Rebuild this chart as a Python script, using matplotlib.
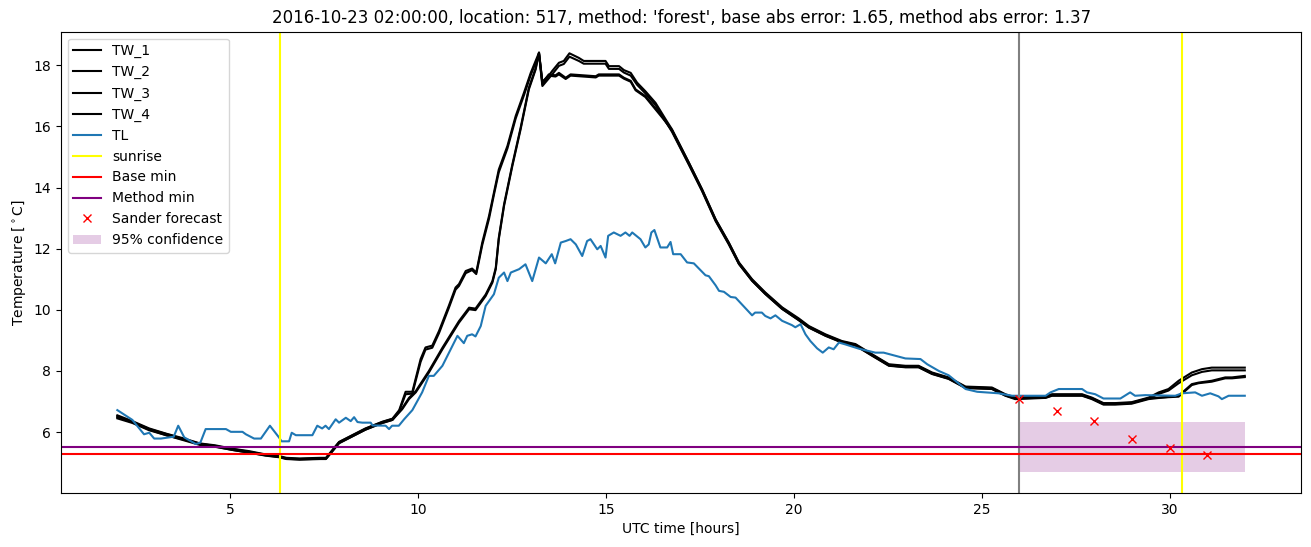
import numpy as np
import matplotlib
matplotlib.use("Agg")
import matplotlib.pyplot as plt

# ── Data (hours UTC, °C) ─────────────────────────────────────────────────────
tw_a_t = [2.0, 2.4, 2.85, 3.3, 3.75, 4.2, 4.6, 5.05, 5.5, 5.95,
          6.3, 6.5, 6.85, 7.4, 7.55, 7.72, 7.9, 8.25, 8.6, 9.05,
          9.32, 9.5, 9.67, 9.85, 10.07, 10.2, 10.38, 10.56, 10.82, 11.0,
          11.09, 11.27, 11.44, 11.55, 11.62, 11.71, 11.89, 12.02, 12.15, 12.38,
          12.6, 12.82, 13.0, 13.22, 13.31, 13.57, 13.75, 13.88, 14.03, 14.28,
          14.41, 14.99, 15.08, 15.35, 15.48, 15.66, 15.83, 16.05, 16.32, 16.59,
          16.76, 17.21, 17.56, 17.92, 18.27, 18.54, 18.89, 19.24, 19.69, 20.13,
          20.4, 20.84, 21.28, 21.64, 22.08, 22.53, 22.97, 23.32, 23.68, 24.12,
          24.57, 25.27, 25.63, 25.89, 26.7, 26.87, 27.67, 27.93, 28.24, 28.55,
          28.99, 29.44, 29.71, 29.97, 30.24, 30.59, 30.86, 31.12, 32.0]
tw_1 = [6.55, 6.36, 6.12, 5.95, 5.8, 5.63, 5.57, 5.46, 5.38, 5.27,
        5.22, 5.16, 5.14, 5.16, 5.16, 5.41, 5.68, 5.9, 6.12, 6.34,
        6.44, 6.72, 7.32, 7.32, 8.39, 8.77, 8.83, 9.31, 10.13, 10.73,
        10.84, 11.27, 11.35, 11.22, 11.65, 12.2, 13.07, 13.83, 14.59, 15.36,
        16.34, 17.1, 17.75, 18.41, 17.37, 17.81, 18.08, 18.14, 18.39, 18.24,
        18.14, 18.14, 17.97, 17.97, 17.84, 17.75, 17.43, 17.15, 16.77, 16.23,
        15.9, 14.81, 13.94, 12.96, 12.2, 11.55, 11.0, 10.57, 10.08, 9.72,
        9.47, 9.2, 8.98, 8.88, 8.55, 8.22, 8.17, 8.17, 7.95, 7.79,
        7.49, 7.46, 7.24, 7.13, 7.17, 7.24, 7.24, 7.13, 6.95, 6.95,
        6.98, 7.13, 7.3, 7.41, 7.68, 7.95, 8.06, 8.11, 8.11]
tw_2 = [6.5, 6.32, 6.08, 5.9, 5.76, 5.6, 5.53, 5.42, 5.33, 5.24,
        5.19, 5.13, 5.11, 5.13, 5.13, 5.38, 5.64, 5.86, 6.08, 6.3,
        6.4, 6.68, 7.24, 7.26, 8.3, 8.7, 8.76, 9.24, 10.06, 10.66,
        10.78, 11.2, 11.3, 11.17, 11.58, 12.12, 12.98, 13.76, 14.5, 15.28,
        16.26, 17.02, 17.68, 18.36, 17.32, 17.7, 17.98, 18.04, 18.28, 18.14,
        18.05, 18.05, 17.88, 17.88, 17.76, 17.66, 17.36, 17.08, 16.7, 16.16,
        15.82, 14.74, 13.88, 12.9, 12.14, 11.5, 10.95, 10.52, 10.03, 9.67,
        9.42, 9.16, 8.94, 8.84, 8.51, 8.18, 8.13, 8.13, 7.91, 7.75,
        7.45, 7.42, 7.2, 7.1, 7.13, 7.2, 7.2, 7.1, 6.92, 6.92,
        6.95, 7.1, 7.25, 7.36, 7.6, 7.86, 7.97, 8.02, 8.02]

tw_b_t = [2.0, 2.4, 2.85, 3.3, 3.75, 4.2, 4.6, 5.05, 5.5, 5.95,
          6.3, 6.5, 6.85, 7.4, 7.55, 7.72, 7.9, 8.25, 8.6, 9.05,
          9.32, 9.58, 9.76, 9.94, 10.29, 10.65, 11.09, 11.36, 11.53, 11.8,
          11.98, 12.07, 12.15, 12.29, 12.51, 12.73, 12.95, 13.13, 13.22, 13.31,
          13.48, 13.66, 13.75, 13.93, 14.06, 14.73, 14.81, 15.35, 15.48, 15.66,
          15.79, 16.05, 16.49, 16.76, 17.21, 17.56, 17.92, 18.27, 18.54, 18.89,
          19.24, 19.69, 20.13, 20.4, 20.84, 21.28, 21.64, 22.08, 22.53, 22.97,
          23.32, 23.68, 24.12, 24.57, 25.27, 25.63, 25.89, 26.7, 26.87, 27.67,
          27.93, 28.24, 28.55, 28.99, 29.44, 30.24, 30.59, 30.77, 31.12, 31.48,
          31.66, 32.0]
tw_3 = [6.45, 6.3, 6.06, 5.9, 5.74, 5.58, 5.52, 5.42, 5.33, 5.23,
        5.18, 5.12, 5.1, 5.12, 5.12, 5.37, 5.64, 5.86, 6.08, 6.3,
        6.4, 6.75, 7.08, 7.3, 7.95, 8.71, 9.58, 10.02, 9.99, 10.45,
        10.89, 11.33, 12.31, 13.4, 14.7, 15.9, 17.21, 17.86, 18.41, 17.43,
        17.7, 17.67, 17.75, 17.59, 17.7, 17.64, 17.7, 17.7, 17.59, 17.49,
        17.21, 16.99, 16.34, 15.85, 14.76, 13.9, 12.92, 12.16, 11.5, 10.95,
        10.52, 10.03, 9.66, 9.42, 9.15, 8.93, 8.83, 8.5, 8.17, 8.12,
        8.12, 7.9, 7.74, 7.44, 7.41, 7.19, 7.08, 7.12, 7.19, 7.19,
        7.08, 6.9, 6.9, 6.93, 7.08, 7.19, 7.57, 7.62, 7.68, 7.79,
        7.79, 7.84]
tw_4 = [6.5, 6.34, 6.1, 5.94, 5.78, 5.62, 5.55, 5.45, 5.36, 5.26,
        5.2, 5.14, 5.12, 5.14, 5.14, 5.4, 5.67, 5.89, 6.11, 6.33,
        6.43, 6.78, 7.12, 7.34, 8.0, 8.76, 9.63, 10.07, 10.04, 10.5,
        10.94, 11.38, 12.36, 13.45, 14.75, 15.95, 17.26, 17.9, 18.41, 17.46,
        17.66, 17.63, 17.7, 17.55, 17.66, 17.6, 17.66, 17.66, 17.56, 17.46,
        17.18, 16.96, 16.3, 15.88, 14.8, 13.93, 12.95, 12.19, 11.53, 10.98,
        10.55, 10.06, 9.69, 9.45, 9.18, 8.96, 8.86, 8.53, 8.2, 8.15,
        8.15, 7.93, 7.77, 7.47, 7.44, 7.22, 7.11, 7.15, 7.22, 7.22,
        7.11, 6.93, 6.93, 6.96, 7.11, 7.16, 7.54, 7.6, 7.65, 7.76,
        7.76, 7.8]

tl_t = [2.0, 2.4, 2.71, 2.85, 2.98, 3.16, 3.5, 3.62, 3.78, 4.09,
        4.21, 4.35, 4.89, 5.02, 5.33, 5.42, 5.64, 5.82, 6.06, 6.3,
        6.37, 6.57, 6.64, 6.75, 7.19, 7.32, 7.45, 7.54, 7.63, 7.81,
        7.9, 8.08, 8.21, 8.3, 8.39, 8.52, 8.74, 8.79, 9.14, 9.23,
        9.31, 9.49, 9.63, 9.85, 10.11, 10.29, 10.42, 10.65, 10.87, 11.05,
        11.22, 11.31, 11.44, 11.53, 11.67, 11.8, 12.02, 12.15, 12.29, 12.38,
        12.47, 12.69, 12.86, 13.04, 13.22, 13.4, 13.56, 13.65, 13.8, 13.93,
        14.06, 14.2, 14.37, 14.5, 14.59, 14.77, 14.86, 14.99, 15.06, 15.21,
        15.39, 15.52, 15.63, 15.7, 15.92, 16.05, 16.14, 16.21, 16.29, 16.45,
        16.63, 16.72, 16.79, 16.99, 17.16, 17.34, 17.65, 17.74, 17.92, 18.01,
        18.14, 18.32, 18.45, 18.89, 18.97, 19.15, 19.24, 19.38, 19.51, 19.69,
        19.95, 20.04, 20.18, 20.31, 20.44, 20.62, 20.77, 20.93, 21.06, 21.2,
        21.37, 21.73, 22.17, 22.39, 22.97, 23.37, 23.55, 23.86, 24.12, 24.3,
        24.57, 24.88, 25.45, 25.81, 26.34, 26.7, 26.83, 27.05, 27.67, 27.8,
        28.02, 28.24, 28.69, 28.95, 29.08, 29.35, 30.15, 30.33, 30.68, 30.86,
        31.08, 31.3, 31.39, 31.57, 32.0]
tl_v = [6.72, 6.4, 5.93, 5.98, 5.79, 5.79, 5.85, 6.21, 5.83, 5.61,
        5.66, 6.1, 6.1, 6.01, 6.01, 5.93, 5.79, 5.79, 6.21, 5.83,
        5.7, 5.7, 5.98, 5.9, 5.9, 6.21, 6.12, 6.21, 6.1, 6.42,
        6.31, 6.47, 6.36, 6.49, 6.33, 6.31, 6.31, 6.22, 6.21, 6.1,
        6.21, 6.21, 6.42, 6.72, 7.3, 7.84, 7.84, 8.17, 8.71, 9.15,
        8.91, 9.15, 9.2, 9.13, 9.47, 10.13, 10.51, 11.05, 11.22, 10.94,
        11.22, 11.33, 11.49, 10.94, 11.71, 11.52, 11.82, 11.52, 12.2, 12.25,
        12.31, 12.14, 11.76, 12.25, 12.31, 11.98, 12.09, 11.71, 12.42, 12.53,
        12.42, 12.53, 12.42, 12.53, 12.31, 12.04, 12.14, 12.53, 12.61, 12.04,
        12.04, 12.22, 11.82, 11.82, 11.55, 11.52, 11.13, 11.1, 10.8, 10.62,
        10.59, 10.42, 10.4, 9.82, 9.91, 9.91, 9.8, 9.72, 9.82, 9.64,
        9.5, 9.43, 9.53, 9.2, 8.98, 8.74, 8.6, 8.77, 8.71, 8.93,
        8.87, 8.73, 8.6, 8.6, 8.41, 8.39, 8.22, 8.0, 7.86, 7.68,
        7.41, 7.32, 7.27, 7.19, 7.19, 7.19, 7.3, 7.41, 7.41, 7.3,
        7.24, 7.1, 7.1, 7.3, 7.19, 7.21, 7.19, 7.27, 7.3, 7.19,
        7.27, 7.17, 7.08, 7.19, 7.19]

sunrise = [6.32, 30.32]
forecast_start = 26.0
base_min = 5.28
method_min = 5.51
sander_t = [26, 27, 28, 29, 30, 31]
sander_v = [7.10, 6.68, 6.38, 5.79, 5.47, 5.25]
conf_t = [26.0, 32.0]
conf_lo = 4.70
conf_hi = 6.33

# ── Plot ─────────────────────────────────────────────────────────────────────
fig = plt.figure(figsize=(13.11, 5.47), dpi=100)
ax = fig.add_axes([0.0465, 0.099, 0.946, 0.843])

ax.plot(tw_a_t, tw_1, color='black', label='TW_1')
ax.plot(tw_a_t, tw_2, color='black', label='TW_2')
ax.plot(tw_b_t, tw_3, color='black', label='TW_3')
ax.plot(tw_b_t, tw_4, color='black', label='TW_4')
ax.plot(tl_t, tl_v, color='tab:blue', label='TL')

for i, s in enumerate(sunrise):
    ax.axvline(s, color='yellow', label='sunrise' if i == 0 else None)
ax.axvline(forecast_start, color='gray')
ax.axhline(base_min, color='red', label='Base min')
ax.axhline(method_min, color='purple', label='Method min')
ax.plot(sander_t, sander_v, 'x', color='red', label='Sander forecast')
ax.fill_between(conf_t, conf_lo, conf_hi, color='purple', alpha=0.2,
                linewidth=0, label='95% confidence')

ax.set_xlabel('UTC time [hours]')
ax.set_ylabel(r'Temperature [$^\circ$C]')
ax.set_title("2016-10-23 02:00:00, location: 517, method: 'forest', "
             "base abs error: 1.65, method abs error: 1.37")
ax.legend(loc='upper left')

fig.savefig('out.png', dpi=100)
